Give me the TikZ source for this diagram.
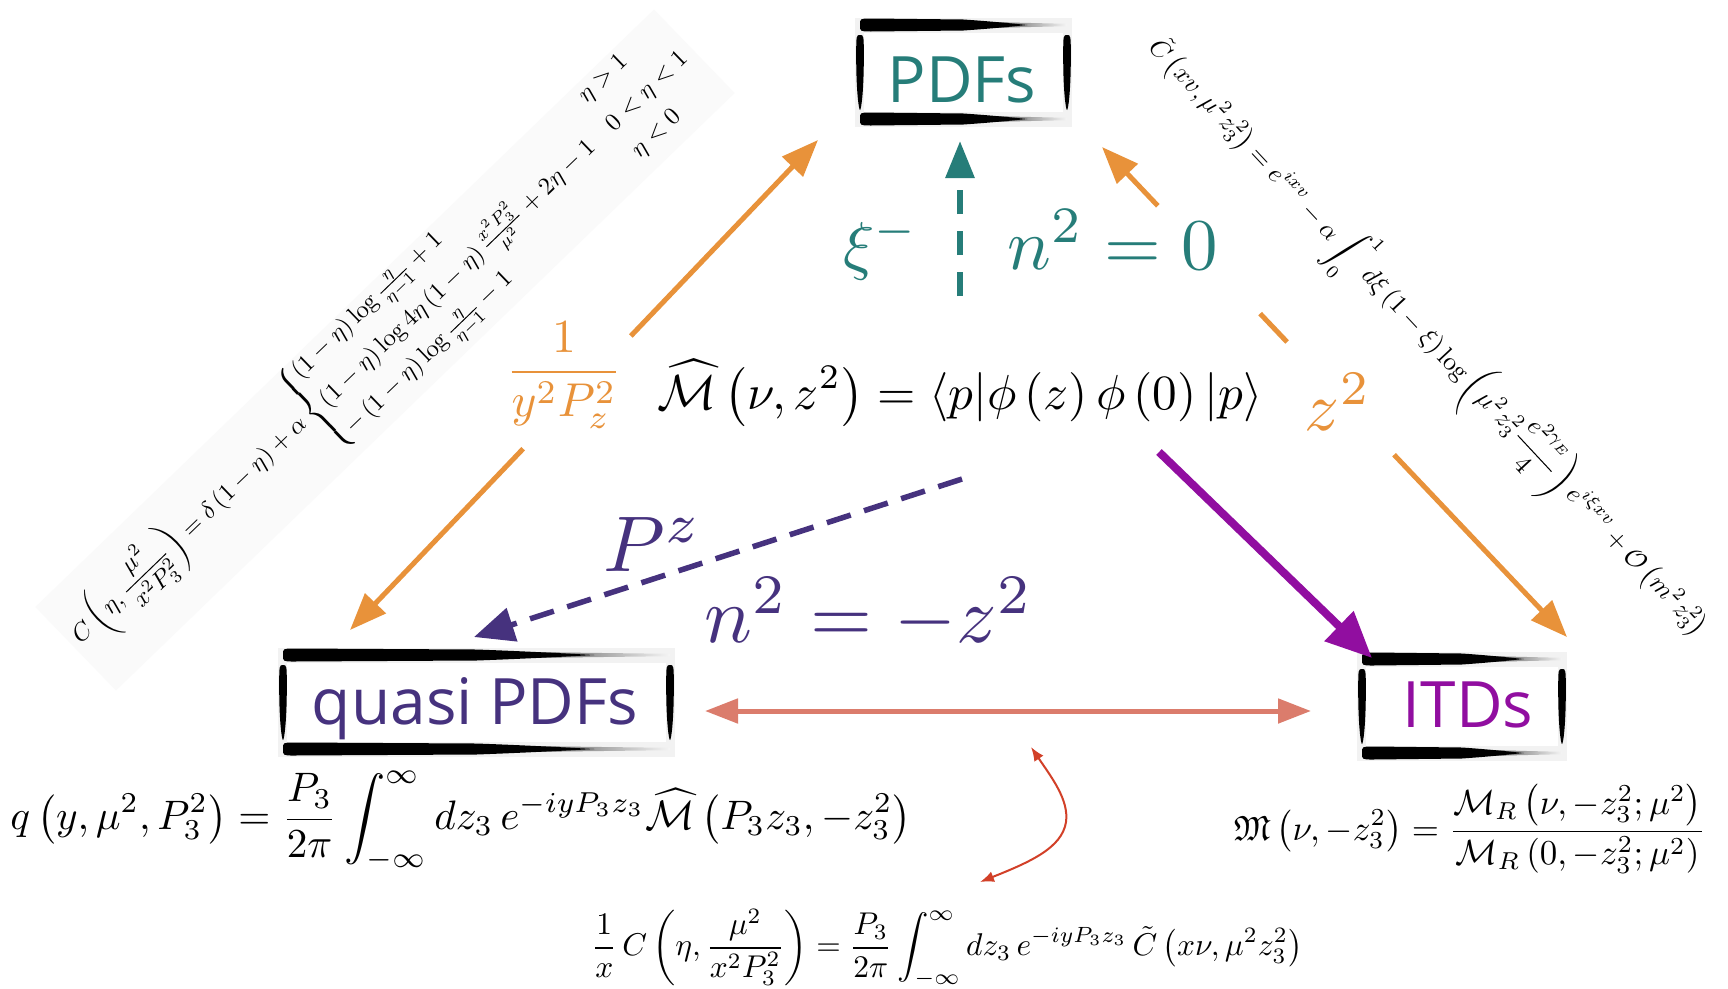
\documentclass[tikz,border=0pt]{standalone}
\usepackage{amsmath,amssymb}
\usepackage{graphicx}
\usepackage{fontspec}
\newfontfamily\boxfont{Open Sans}
\usetikzlibrary{arrows.meta,calc}
\definecolor{cteal}{HTML}{267D79}
\definecolor{cpurple}{HTML}{46327E}
\definecolor{cmag}{HTML}{910EA0}
\definecolor{corange}{HTML}{E8923A}
\definecolor{csalmon}{HTML}{DB7C6C}
\definecolor{cred}{HTML}{D24028}

\newcommand{\hstroke}[3]{%
 \pgfmathsetmacro\hsA{#1+3}%
 \pgfmathsetmacro\hsB{#1+14}%
 \pgfmathsetmacro\hsC{#1+0.50*(#2-#1)}%
 \pgfmathsetmacro\hsCc{#1+0.64*(#2-#1)}%
 \pgfmathsetmacro\hsCd{#1+0.74*(#2-#1)}%
 \pgfmathsetmacro\hsD{#1+0.80*(#2-#1)}%
 \pgfmathsetmacro\hsE{#2-3}%
 \pgfmathsetmacro\hsT{#3-6.5}%
 \pgfmathsetmacro\hsU{#3+6.5}%
 \pgfmathsetmacro\hsTa{#3-5.5}%
 \pgfmathsetmacro\hsUa{#3+5.5}%
 \pgfmathsetmacro\hsTb{#3-3.5}%
 \pgfmathsetmacro\hsUb{#3+3.5}%
 \pgfmathsetmacro\hsTc{#3-1.2}%
 \pgfmathsetmacro\hsUc{#3+1.2}%
 \shade[left color=black!90, right color=black!4] (\hsC,\hsTb) -- (\hsE,\hsTc) -- (\hsE,\hsUc) -- (\hsC,\hsUb) -- cycle;
 \fill[black] (\hsA,#3) .. controls (\hsA,\hsT) .. (\hsB,\hsT) -- (\hsC,\hsTa)
   .. controls (\hsCc,\hsTb) and (\hsCd,\hsTc) .. (\hsD,#3)
   .. controls (\hsCd,\hsUc) and (\hsCc,\hsUb) .. (\hsC,\hsUa)
   -- (\hsB,\hsU) .. controls (\hsA,\hsU) .. (\hsA,#3) -- cycle;
}
\newcommand{\vstroke}[3]{%
 \pgfmathsetmacro\vsL{#1-3.8}%
 \pgfmathsetmacro\vsR{#1+3.8}%
 \pgfmathsetmacro\vsM{#2+0.3*(#3-#2)}%
 \pgfmathsetmacro\vsN{#2+0.75*(#3-#2)}%
 \pgfmathsetmacro\vsLl{#1-1.2}%
 \pgfmathsetmacro\vsRr{#1+1.2}%
 \fill[black] (#1,#2) .. controls (\vsR,#2) .. (\vsR,\vsM)
   .. controls (\vsR,\vsN) and (\vsRr,#3) .. (#1,#3)
   .. controls (\vsLl,#3) and (\vsL,\vsN) .. (\vsL,\vsM)
   .. controls (\vsL,#2) .. (#1,#2) -- cycle;
}
\newcommand{\brushframe}[4]{%
 \pgfmathsetmacro\bfA{#1+9}\pgfmathsetmacro\bfB{#2+15}%
 \pgfmathsetmacro\bfC{#3-9}\pgfmathsetmacro\bfD{#4-15}%
 \fill[black!5] (#1,#2) rectangle (#3,#4);
 \fill[white] (\bfA,\bfB) rectangle (\bfC,\bfD);
}
\newcommand{\brushstrokes}[4]{%
 \pgfmathsetmacro\bsTop{#2+7}\pgfmathsetmacro\bsBot{#4-8}%
 \pgfmathsetmacro\bsXl{#1+5}\pgfmathsetmacro\bsXr{#3-5}%
 \pgfmathsetmacro\bsYa{#2+17}\pgfmathsetmacro\bsYb{#4-17}%
 \pgfmathsetmacro\bsXa{#1+2}\pgfmathsetmacro\bsXb{#3-2}%
 \hstroke{\bsXa}{\bsXb}{\bsTop}%
 \hstroke{\bsXa}{\bsXb}{\bsBot}%
 \vstroke{\bsXl}{\bsYa}{\bsYb}%
 \vstroke{\bsXr}{\bsYa}{\bsYb}%
}

\tikzset{
 boxlabel/.style={font=\boxfont\fontsize{64}{70}\selectfont, inner sep=0pt, anchor=base},
 formula/.style={inner sep=0pt},
 lab/.style={inner sep=0pt, anchor=base},
 orangeline/.style={draw=corange, line width=5pt},
 otip/.tip={Triangle[length=37pt,width=28pt]},
}

\begin{document}
\begin{tikzpicture}[x=1pt,y=-1pt]
\useasboundingbox[fill=white] (0,0) rectangle (1728,988);

% faint band behind the left rotated formula
\fill[black!2, rotate around={44:(385,350)}] (-45,292) rectangle (815,408);

% rotated formulas
\node[formula, rotate=44] (cleft) at (381,346) {\resizebox{846pt}{!}{$\displaystyle
 C\left(\eta,\frac{\mu^2}{x^2P_3^2}\right)=\delta\left(1-\eta\right)+\alpha
 \begin{cases}\left(1-\eta\right)\log\frac{\eta}{\eta-1}+1 & \eta>1\\
 \left(1-\eta\right)\log4\eta\left(1-\eta\right)\frac{x^2P_3^2}{\mu^2}+2\eta-1 & 0<\eta<1\\
 -\left(1-\eta\right)\log\frac{\eta}{\eta-1}-1 & \eta<0\end{cases}$}};

\node[formula, rotate=-47] (cright) at (1428,337) {\resizebox{805pt}{!}{$\displaystyle
 \tilde C\left(xv,\mu^2z_3^2\right)=e^{ixv}-\alpha\int_0^1 d\xi\left(1-\xi\right)\log\left(\mu^2z_3^2\frac{e^{2\gamma_E}}{4}\right)e^{i\xi xv}+\mathcal{O}\left(m^2z_3^2\right)$}};

% boxes
\brushframe{855}{18}{1072}{127}
\brushframe{278}{648}{675}{757}
\brushframe{1357}{652}{1567}{761}
\node[boxlabel, text=cteal] (pdfs) at (962,102) {PDFs};
\node[boxlabel, text=cpurple] (quasi) at (475,724) {quasi PDFs};
\node[boxlabel, text=cmag] (itds) at (1468,727) {ITDs};
\brushstrokes{855}{18}{1072}{127}
\brushstrokes{278}{648}{675}{757}
\brushstrokes{1357}{652}{1567}{761}

% centre formula
\node[formula] (mhat) at (960,393) {\resizebox{605pt}{!}{$\displaystyle
 \widehat{\mathcal{M}}\left(\nu,z^2\right)=\langle p|\phi\left(z\right)\phi\left(0\right)|p\rangle$}};

% connector end points
\coordinate (qL) at (350,630);
\coordinate (pL) at (818,140);
\coordinate (iR) at (1567,637);
\coordinate (pR) at (1102,147);
\coordinate (tS) at (960,296);
\coordinate (tT) at (960,141);
\coordinate (mS) at (1159,452);
\coordinate (mT) at (1372,658);
\coordinate (dS) at (962,479);
\coordinate (dT) at (474,637);
\coordinate (sL) at (705,711);
\coordinate (sR) at (1311,711);
\coordinate (rT) at (1031,747);
\coordinate (rM) at (1066,822);
\coordinate (rB) at (980,882);

% orange left (broken by label)
\draw[orangeline, {otip}-] (qL) -- ($(qL)!0.370!(pL)$);
\draw[orangeline, -{otip}] ($(qL)!0.600!(pL)$) -- (pL);
% orange right (broken by labels)
\draw[orangeline, {otip}-] (iR) -- ($(iR)!0.372!(pR)$);
\draw[orangeline] ($(iR)!0.602!(pR)$) -- ($(iR)!0.660!(pR)$);
\draw[orangeline, -{otip}] ($(iR)!0.880!(pR)$) -- (pR);

% teal dashed
\draw[cteal, line width=6pt, dash pattern=on 24pt off 17pt, -{Triangle[length=37pt,width=28pt]}] (tS) -- (tT);
% magenta
\draw[cmag, line width=8pt, -{Triangle[length=46pt,width=40pt]}] (mS) -- (mT);
% purple dashed
\draw[cpurple, line width=5.5pt, dash pattern=on 25pt off 14pt, -{Triangle[length=40pt,width=34pt]}] (dS) -- (dT);
% salmon double
\draw[csalmon, line width=5pt, {Triangle[length=33pt,width=24pt]}-{Triangle[length=33pt,width=24pt]}] (sL) -- (sR);
% red curved
\draw[cred, line width=2pt, {Latex[length=14pt,width=11pt]}-{Latex[length=14pt,width=11pt]}]
 (rT) .. controls (1052,778) and (1069,800) .. (rM) .. controls (1062,848) and (1030,862) .. (rB);

% labels
\node[formula, text=corange] (frac) at (564,375) {\resizebox{116pt}{!}{$\dfrac{1}{y^2P_z^2}$}};
\node[lab, text=cteal] (xi) at (881,267) {\resizebox{75pt}{!}{$\xi^-$}};
\node[lab, text=cteal] (nzero) at (1113,269) {\resizebox{210pt}{!}{$n^2=0$}};
\node[lab, text=corange] (zsq) at (1338,430) {\resizebox{66pt}{!}{$z^2$}};
\node[lab, text=cpurple] (pz) at (653,571) {\resizebox{98pt}{!}{$P^z$}};
\node[lab, text=cpurple] (nz) at (869,642) {\resizebox{328pt}{!}{$n^2=-z^2$}};

% bottom formulas
\node[formula] (qdef) at (461,821) {\resizebox{901pt}{!}{$\displaystyle
 q\left(y,\mu^2,P_3^2\right)=\frac{P_3}{2\pi}\int_{-\infty}^{\infty}dz_3\,e^{-iyP_3z_3}\widehat{\mathcal{M}}\left(P_3z_3,-z_3^2\right)$}};
\node[formula] (itddef) at (1470,829) {\resizebox{472pt}{!}{$\displaystyle
 \mathfrak{M}\left(\nu,-z_3^2\right)=\frac{\mathcal{M}_R\left(\nu,-z_3^2;\mu^2\right)}{\mathcal{M}_R\left(0,-z_3^2;\mu^2\right)}$}};
\node[formula] (cdef) at (947,948) {\resizebox{711pt}{!}{$\displaystyle
 \frac{1}{x}\,C\left(\eta,\frac{\mu^2}{x^2P_3^2}\right)=\frac{P_3}{2\pi}\int_{-\infty}^{\infty}dz_3\,e^{-iyP_3z_3}\,\tilde C\left(x\nu,\mu^2z_3^2\right)$}};
\end{tikzpicture}
\end{document}
